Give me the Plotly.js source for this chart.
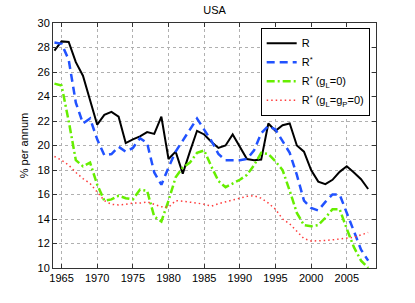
<!DOCTYPE html>
<html>
<head>
<meta charset="utf-8">
<script src="https://cdn.plot.ly/plotly-3.0.1.min.js"></script>
<style>html,body{margin:0;padding:0;background:#fff}#chart{width:415px;height:303px}</style>
</head>
<body>
<div id="chart"></div>
<script>
var years = [1964,1965,1966,1967,1968,1969,1970,1971,1972,1973,1974,1975,1976,1977,1978,1979,1980,1981,1982,1983,1984,1985,1986,1987,1988,1989,1990,1991,1992,1993,1994,1995,1996,1997,1998,1999,2000,2001,2002,2003,2004,2005,2006,2007,2008];
var seriesR = [27.75,28.5,28.45,26.8,25.7,23.8,21.7,22.5,22.75,22.35,20.2,20.5,20.75,21.1,20.95,22.35,18.9,19.5,17.7,19.5,21.2,20.9,20.3,19.8,20.0,20.9,19.9,18.9,18.8,18.85,21.8,21.2,21.65,21.8,20.0,19.5,18.0,17.05,16.85,17.2,17.85,18.3,17.8,17.25,16.45];
var seriesRstar = [28.4,28.3,27.0,23.5,21.8,22.2,20.5,19.2,19.3,19.9,19.5,19.8,20.6,20.2,17.8,16.8,18.2,19.5,20.4,21.3,22.2,21.3,20.4,19.3,18.8,18.8,18.8,18.9,19.6,21.0,21.6,21.3,20.4,19.4,17.6,15.5,14.9,14.7,15.4,16.0,16.0,14.5,12.9,11.5,10.6];
var seriesGL0 = [25.05,24.9,22.0,18.8,18.3,18.6,16.8,15.5,15.6,15.9,15.7,15.6,16.4,16.3,14.2,13.8,15.5,17.4,18.2,18.6,19.4,19.6,18.3,17.1,16.6,16.9,17.2,17.6,18.4,19.4,19.3,18.7,18.0,16.3,14.5,13.5,13.4,13.5,14.1,14.8,14.8,13.2,11.7,10.6,10.0];
var seriesGLGP0 = [19.1,18.8,18.4,17.8,17.3,16.9,16.2,15.5,15.2,15.15,15.2,15.3,15.3,15.4,15.2,15.0,14.95,15.5,15.45,15.4,15.3,15.2,15.05,15.25,15.4,15.6,15.75,15.85,15.9,15.7,15.3,14.8,14.0,13.6,13.0,12.4,12.2,12.2,12.25,12.3,12.35,12.4,12.5,12.7,12.9];
var names = ['R','R<sup>*</sup>','R<sup>*</sup> (g<sub>L</sub>=0)','R<sup>*</sup> (g<sub>L</sub>=g<sub>P</sub>=0)'];
var xTicks = [1965,1970,1975,1980,1985,1990,1995,2000,2005];
var yTicks = [10,12,14,16,18,20,22,24,26,28,30];

var traces = [
  {x: years, y: seriesR, name: names[0], mode: 'lines', line: {color: '#000000', width: 2}},
  {x: years, y: seriesRstar, name: names[1], mode: 'lines', line: {color: '#2152ff', width: 2.5, dash: '8px,5px'}},
  {x: years, y: seriesGL0, name: names[2], mode: 'lines', line: {color: '#66ee00', width: 2.5, dash: '8px,3px,2px,3px'}},
  {x: years, y: seriesGLGP0, name: names[3], mode: 'lines', line: {color: '#ff3b3b', width: 1.5, dash: '1.5px,3px'}}
];

var axisCommon = {
  showline: true, linecolor: '#333', linewidth: 1, mirror: 'ticks',
  ticks: 'inside', ticklen: 4, tickcolor: '#333',
  showgrid: true, gridcolor: '#b0b0b0', griddash: 'dot', gridwidth: 1,
  zeroline: false, tickfont: {family: 'Liberation Sans, Arial, sans-serif', size: 11, color: '#000'}
};

var layout = {
  width: 415, height: 303,
  margin: {l: 53, r: 39, t: 23, b: 35},
  paper_bgcolor: '#fff', plot_bgcolor: '#fff',
  font: {family: 'Liberation Sans, Arial, sans-serif', size: 11, color: '#000'},
  title: {text: 'USA', x: 0.517, xanchor: 'center', y: 0.965, yanchor: 'middle', font: {size: 11}},
  xaxis: Object.assign({}, axisCommon, {range: [1963.8, 2009.1], tickvals: xTicks, ticktext: xTicks.map(String)}),
  yaxis: Object.assign({}, axisCommon, {range: [10, 30], tickvals: yTicks, ticktext: yTicks.map(String),
    title: {text: '% per annum', standoff: 6, font: {size: 11}}}),
  legend: {x: 0.643, y: 0.981, xanchor: 'left', yanchor: 'top', bgcolor: '#fff', bordercolor: '#000', borderwidth: 1,
    font: {size: 11}, tracegroupgap: 0, itemwidth: 30},
  showlegend: true
};

Plotly.newPlot('chart', traces, layout, {staticPlot: true, displayModeBar: false});
</script>
</body>
</html>
